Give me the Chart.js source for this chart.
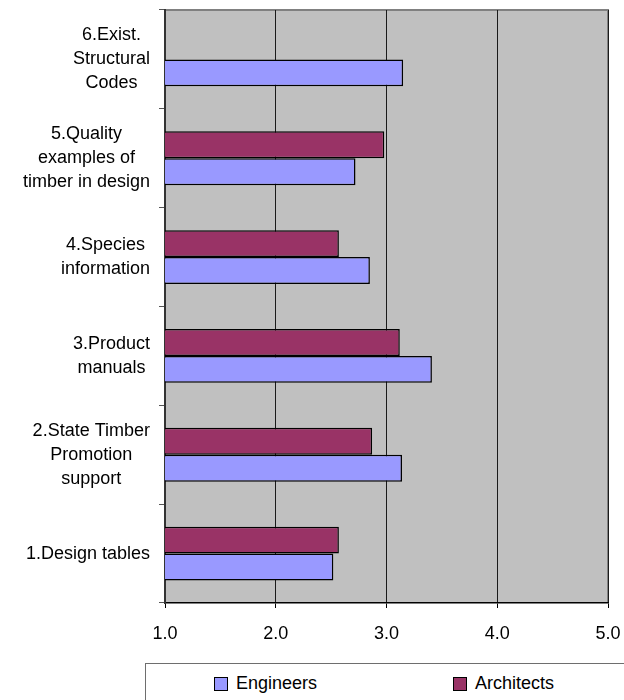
<!DOCTYPE html>
<html>
<head>
<meta charset="utf-8">
<script src="https://cdn.jsdelivr.net/npm/chart.js@4"></script>
<style>
  html, body { margin: 0; padding: 0; background: #fff; }
  #wrap { position: relative; width: 624px; height: 700px; overflow: hidden; }
  #c { position: absolute; left: 0; top: 0; }
  #legend { position: absolute; left: 145px; top: 663px; width: 490px; height: 50px;
            border: 1px solid #6e6e6e; box-sizing: border-box; background: #fff;
            font-family: "Liberation Sans", Arial, sans-serif; font-size: 18px; color: #000; }
  .item { position: absolute; top: 9px; display: flex; align-items: center; white-space: nowrap; }
  .sw { width: 12px; height: 12px; border: 1px solid #000; margin-right: 8px; }
</style>
</head>
<body>
<div id="wrap">
  <canvas id="c" width="624" height="700"></canvas>
  <div id="legend"></div>
</div>
<script>
// Categories, top to bottom as shown
const categories = [
  ['6.Exist.', 'Structural', 'Codes'],
  ['5.Quality', 'examples of', 'timber in design'],
  ['4.Species', 'information'],
  ['3.Product', 'manuals'],
  ['2.State Timber', 'Promotion', 'support'],
  ['1.Design tables']
];
const engineers  = [3.15, 2.72, 2.85, 3.41, 3.14, 2.52];
const architects = [null, 2.98, 2.57, 3.12, 2.87, 2.57];
const xTicks = [1, 2, 3, 4, 5];

const FONT = '"Liberation Sans", Arial, sans-serif';
const ENG_COLOR = '#9999FF';
const ARCH_COLOR = '#993366';

const plotBg = {
  id: 'plotBg',
  beforeDraw(chart) {
    const { ctx, chartArea: a } = chart;
    ctx.save();
    ctx.fillStyle = '#C0C0C0';
    ctx.fillRect(a.left, a.top, a.right - a.left, a.bottom - a.top);
    ctx.strokeStyle = '#808080';
    ctx.lineWidth = 2;
    ctx.beginPath();
    ctx.moveTo(a.left, a.top);
    ctx.lineTo(a.right, a.top);
    ctx.lineTo(a.right, a.bottom);
    ctx.stroke();
    ctx.restore();
  }
};

const yLabels = {
  id: 'yLabels',
  afterDraw(chart) {
    const { ctx } = chart;
    const ys = chart.scales.y;
    ctx.save();
    ctx.font = '18px ' + FONT;
    ctx.fillStyle = '#000';
    ctx.textAlign = 'center';
    ctx.textBaseline = 'middle';
    const lh = 24;
    const rightEdge = 150;
    chart.data.labels.forEach((lines, i) => {
      const cy = ys.getPixelForValue(i);
      const maxW = Math.max(...lines.map(l => ctx.measureText(l).width));
      const cx = rightEdge - maxW / 2;
      const y0 = cy - (lines.length - 1) * lh / 2;
      lines.forEach((l, k) => ctx.fillText(l, cx, y0 + k * lh));
    });
    ctx.restore();
  }
};

const chart = new Chart(document.getElementById('c'), {
  type: 'bar',
  data: {
    labels: categories,
    datasets: [
      { label: 'Architects', data: architects, backgroundColor: ARCH_COLOR,
        borderColor: '#000', borderWidth: 1.5, borderSkipped: false },
      { label: 'Engineers', data: engineers, backgroundColor: ENG_COLOR,
        borderColor: '#000', borderWidth: 1.5, borderSkipped: false }
    ]
  },
  options: {
    indexAxis: 'y',
    responsive: false,
    animation: false,
    devicePixelRatio: 1,
    categoryPercentage: 0.545,
    barPercentage: 1.0,
    layout: { padding: { top: 10, right: 0, left: 0, bottom: 0 } },
    plugins: { legend: { display: false }, tooltip: { enabled: false } },
    scales: {
      x: {
        type: 'linear',
        min: 1, max: 5,
        afterBuildTicks(scale) { scale.ticks = xTicks.map(v => ({ value: v })); },
        afterFit(scale) { scale.height = 97; scale.paddingRight = 16; scale.paddingLeft = 0; },
        ticks: {
          color: '#000',
          font: { family: FONT, size: 18 },
          padding: 15,
          callback: v => Number(v).toFixed(1)
        },
        grid: { color: '#1a1a1a', lineWidth: 1, drawTicks: true, tickLength: 5, tickColor: '#000' },
        border: { display: true, color: '#000', width: 1.5 }
      },
      y: {
        type: 'category',
        afterFit(scale) { scale.width = 165; scale.paddingTop = 0; scale.paddingBottom = 0; },
        ticks: { display: false },
        grid: { drawOnChartArea: false, drawTicks: true, tickLength: 6, offset: true, color: '#555' },
        border: { display: true, color: '#333', width: 2 }
      }
    }
  },
  plugins: [plotBg, yLabels]
});

// HTML legend built from the datasets (Engineers first)
const legend = document.getElementById('legend');
const order = ['Engineers', 'Architects'];
const lefts = { Engineers: 68, Architects: 307 };
order.forEach(name => {
  const ds = chart.data.datasets.find(d => d.label === name);
  const it = document.createElement('div');
  it.className = 'item';
  it.style.left = lefts[name] + 'px';
  const sw = document.createElement('span');
  sw.className = 'sw';
  sw.style.background = ds.backgroundColor;
  const tx = document.createElement('span');
  tx.textContent = ds.label;
  it.appendChild(sw); it.appendChild(tx);
  legend.appendChild(it);
});
</script>
</body>
</html>
